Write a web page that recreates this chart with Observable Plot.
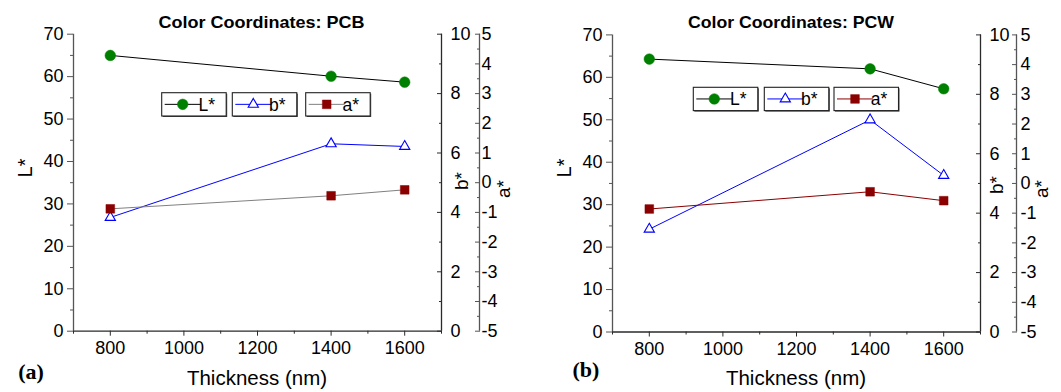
<!DOCTYPE html>
<html><head><meta charset="utf-8">
<script src="https://cdn.jsdelivr.net/npm/d3@7"></script>
<script src="https://cdn.jsdelivr.net/npm/@observablehq/plot@0.6"></script>
<style>
html,body{margin:0;padding:0;background:#fff;overflow:hidden;}
#wrap{position:relative;width:1061px;height:392px;background:#fff;}
.panel{position:absolute;top:0;width:530px;height:392px;}
</style></head><body><div id="wrap"></div>
<script>
// ---- data ----
const thickness = [800, 1400, 1600];
const L_PCB = [65.0, 60.1, 58.7];
const b_PCB = [3.83, 6.31, 6.22];
const a_PCB = [-0.88, -0.44, -0.24];
const L_PCW = [64.3, 62.0, 57.3];
const b_PCW = [3.46, 7.14, 5.27];
const a_PCW = [-0.86, -0.28, -0.58];

// ---- ticks / labels ----
const xTicks = [800, 1000, 1200, 1400, 1600];
const xMinor = [700, 900, 1100, 1300, 1500, 1700];
const LTicks = [0, 10, 20, 30, 40, 50, 60, 70];
const LMinor = [5, 15, 25, 35, 45, 55, 65];
const bTicks = [0, 2, 4, 6, 8, 10];
const bMinor = [1, 3, 5, 7, 9];
const aTicks = [-5, -4, -3, -2, -1, 0, 1, 2, 3, 4, 5];
const aMinor = [-4.5, -3.5, -2.5, -1.5, -0.5, 0.5, 1.5, 2.5, 3.5, 4.5];
const seriesNames = ["L*", "b*", "a*"];
const titles = ["Color Coordinates: PCB", "Color Coordinates: PCW"];
const panelLabels = ["(a)", "(b)"];
const xLabel = "Thickness (nm)";
const yLabels = ["L*", "b*", "a*"];

// scale mapping of secondary axes onto the L* scale (0..70)
const LDomain = [0, 70], bDomain = [0, 10], aDomain = [-5, 5];
const bToL = v => (v - bDomain[0]) / (bDomain[1] - bDomain[0]) * (LDomain[1] - LDomain[0]);
const aToL = v => (v - aDomain[0]) / (aDomain[1] - aDomain[0]) * (LDomain[1] - LDomain[0]);
const LToB = v => Math.round(v / (LDomain[1] - LDomain[0]) * (bDomain[1] - bDomain[0]) + bDomain[0]);
const LToA = v => Math.round(v / (LDomain[1] - LDomain[0]) * (aDomain[1] - aDomain[0]) + aDomain[0]);

const GREEN = "#008000", BLUE = "#0000ff", DARKRED = "#8b0000";
const FONT = "'Liberation Sans', Arial, Helvetica, sans-serif";

function makePanel(cfg) {
  const rows = thickness.map((t, i) => ({t, L: cfg.L[i], b: cfg.b[i], a: cfg.a[i]}));
  const axisColor = "#2a2a2a";
  const aOff = cfg.aOffset;
  const plot = Plot.plot({
    width: 530, height: 392,
    marginLeft: 73, marginRight: 89, marginTop: cfg.mt, marginBottom: cfg.mb,
    style: {fontFamily: FONT, fontSize: "18px", color: "#000", background: "transparent", overflow: "visible"},
    x: {domain: [700, 1700]},
    y: {domain: LDomain},
    marks: [
      Plot.ruleX([700], {stroke: "#555", strokeWidth: 1.3}),
      Plot.ruleX([1700], {stroke: axisColor, strokeWidth: 1.3}),
      Plot.ruleY([0], {stroke: axisColor, strokeWidth: 1.3}),
      Plot.ruleX([1700], {dx: aOff, stroke: "#555", strokeWidth: 1.3}),
      Plot.axisX({ticks: xTicks, tickSize: 5, tickPadding: 5, fontSize: 18, label: null, stroke: axisColor, tickFormat: d => String(d)}),
      Plot.axisX({ticks: xMinor, tickSize: 3, label: null, stroke: axisColor, tickFormat: () => ""}),
      Plot.axisY({ticks: LTicks, tickSize: 6, tickPadding: 4, fontSize: 18, label: null, stroke: "#555", tickFormat: d => String(d)}),
      Plot.axisY({ticks: LMinor, tickSize: 3, label: null, stroke: "#555", tickFormat: () => ""}),
      Plot.axisY({anchor: "right", ticks: bTicks.map(bToL), tickSize: -5, tickPadding: 14, fontSize: 18, label: null, stroke: axisColor, tickFormat: d => String(LToB(d))}),
      Plot.axisY({anchor: "right", ticks: bMinor.map(bToL), tickSize: -3, label: null, stroke: axisColor, tickFormat: () => ""}),
      Plot.axisY({anchor: "right", dx: aOff, ticks: aTicks.map(aToL), tickSize: -5, tickPadding: 5 + cfg.aPad, fontSize: 18, label: null, stroke: "#555", tickFormat: d => String(LToA(d))}),
      Plot.axisY({anchor: "right", dx: aOff, ticks: aMinor.map(aToL), tickSize: -3, label: null, stroke: "#555", tickFormat: () => ""}),
      Plot.line(rows, {x: "t", y: "L", stroke: "#000", strokeWidth: 1}),
      Plot.line(rows, {x: "t", y: d => bToL(d.b), stroke: BLUE, strokeWidth: 1}),
      Plot.line(rows, {x: "t", y: d => aToL(d.a), stroke: cfg.aLine, strokeWidth: 1}),
      Plot.dot(rows, {x: "t", y: "L", r: 5.3, fill: GREEN, stroke: GREEN, strokeWidth: 0.5}),
      Plot.dot(rows, {x: "t", y: d => bToL(d.b), symbol: "triangle", r: 3.8, fill: "white", stroke: BLUE, strokeWidth: 1.1}),
      Plot.dot(rows, {x: "t", y: d => aToL(d.a), symbol: "square", r: 4.9, fill: DARKRED, stroke: DARKRED, strokeWidth: 0.5})
    ]
  });

  const svg = d3.select(plot);
  // title
  svg.append("text").attr("x", cfg.titleX).attr("y", 27.5).attr("text-anchor", "middle")
    .attr("font-family", FONT).attr("font-weight", "bold").attr("font-size", 16.5)
    .attr("textLength", 206).attr("lengthAdjust", "spacingAndGlyphs").text(cfg.title);
  // x label
  svg.append("text").attr("x", 257).attr("y", 385).attr("text-anchor", "middle")
    .attr("font-family", FONT).attr("font-size", 20.5).text(xLabel);
  // y labels
  svg.append("text").attr("transform", "translate(32,168) rotate(-90)").attr("text-anchor", "middle")
    .attr("font-family", FONT).attr("font-size", 20).text(yLabels[0]);
  svg.append("text").attr("transform", `translate(${cfg.bLabX},${cfg.bLabY}) rotate(-90)`).attr("text-anchor", "middle")
    .attr("font-family", FONT).attr("font-size", 19).text(yLabels[1]);
  svg.append("text").attr("transform", `translate(${cfg.aLabX},189) rotate(-90)`).attr("text-anchor", "middle")
    .attr("font-family", FONT).attr("font-size", 19).text(yLabels[2]);
  // panel label
  svg.append("text").attr("x", cfg.pX).attr("y", cfg.pY)
    .attr("font-family", "'Liberation Serif', 'Times New Roman', serif").attr("font-weight", "bold").attr("font-size", 22)
    .text(cfg.panelLabel);

  // legend boxes
  const styles = [
    {line: "#000", sym: d3.symbolCircle, r: 5.3, fill: GREEN, stroke: GREEN},
    {line: BLUE, sym: d3.symbolTriangle, r: 3.8, fill: "white", stroke: BLUE},
    {line: cfg.aLine, sym: d3.symbolSquare, r: 4.9, fill: DARKRED, stroke: DARKRED}
  ];
  const lg = svg.append("g");
  seriesNames.forEach((name, i) => {
    const bx = cfg.legX[i], by = cfg.legY, w = 64.5, h = 23.3, s = styles[i];
    lg.append("rect").attr("x", bx + 1).attr("y", by + 1).attr("width", w).attr("height", h).attr("fill", "#444");
    lg.append("rect").attr("x", bx).attr("y", by).attr("width", w).attr("height", h)
      .attr("fill", "white").attr("stroke", "#222").attr("stroke-width", 1.1);
    lg.append("line").attr("x1", bx + 3).attr("x2", bx + 39).attr("y1", by + h / 2).attr("y2", by + h / 2)
      .attr("stroke", s.line).attr("stroke-width", 1);
    lg.append("path").attr("transform", `translate(${bx + 21},${by + h / 2})`)
      .attr("d", d3.symbol().type(s.sym).size(Math.PI * s.r * s.r)())
      .attr("fill", s.fill).attr("stroke", s.stroke).attr("stroke-width", i === 1 ? 1.1 : 0.5);
    lg.append("text").attr("x", bx + 45).attr("y", by + h / 2 + 6.5)
      .attr("font-family", FONT).attr("font-size", 17.5).text(name);
  });
  return plot;
}

const wrap = document.getElementById("wrap");
const cfgs = [
  {L: L_PCB, b: b_PCB, a: a_PCB, aLine: "#808080", title: titles[0], panelLabel: panelLabels[0],
   mt: 33.7, mb: 61.3, aOffset: 38, aPad: 2, titleX: 261.5, bLabX: 468, bLabY: 181, aLabX: 510, pX: 31, pY: 379,
   legX: [161.7, 232.3, 305.7], legY: 92.7, left: 0},
  {L: L_PCW, b: b_PCW, a: a_PCW, aLine: DARKRED, title: titles[1], panelLabel: panelLabels[1],
   mt: 34.4, mb: 60.5, aOffset: 36, aPad: 4, titleX: 252, bLabX: 464, bLabY: 185, aLabX: 509, pX: 47, pY: 377,
   legX: [154.3, 225.3, 295], legY: 87.3, left: 539}
];
cfgs.forEach(cfg => {
  const div = document.createElement("div");
  div.className = "panel";
  div.style.left = cfg.left + "px";
  div.appendChild(makePanel(cfg));
  wrap.appendChild(div);
});
</script>
</body></html>
